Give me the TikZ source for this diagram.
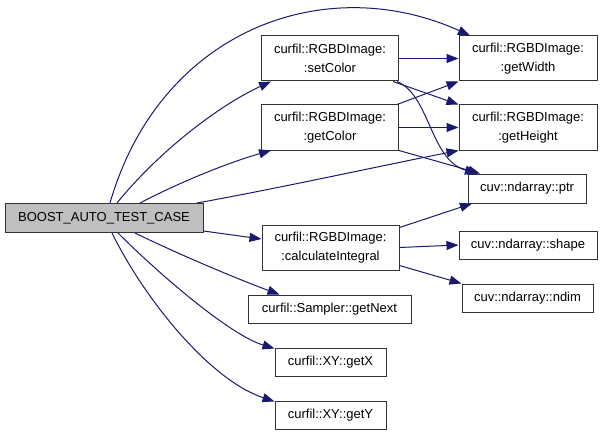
\documentclass[tikz,border=0pt]{standalone}
\usepackage{fontspec}
\setmainfont{Liberation Sans}
\usetikzlibrary{arrows.meta}
\definecolor{edgeblue}{HTML}{191970}

\begin{document}
\begin{tikzpicture}[x=1pt,y=-1pt,
    fn/.style={draw=black!80, line width=1pt, fill=white, align=center, inner sep=0pt,
      minimum width=137pt, minimum height=45pt, font=\fontsize{13}{18.5}\selectfont},
    call/.style={draw=edgeblue, line width=1pt, -{Triangle[length=12pt,width=9pt]}}]
    \useasboundingbox (0,0) rectangle (603,436);
    \node[fn, fill=black!25, minimum width=198pt, minimum height=29pt] (main) at (104,218) {BOOST\_AUTO\_TEST\_CASE};
    \node[fn] (setColor) at (330,58.5) {curfil::RGBDImage:\\:setColor};
    \node[fn] (getColor) at (330,127.5) {curfil::RGBDImage:\\:getColor};
    \node[fn, minimum width=138pt] (getWidth) at (528,58.5) {curfil::RGBDImage:\\:getWidth};
    \node[fn, minimum width=138pt] (getHeight) at (528,127.5) {curfil::RGBDImage:\\:getHeight};
    \node[fn, minimum width=118pt, minimum height=29pt] (ptr) at (527,188.5) {cuv::ndarray::ptr};
    \node[fn] (calcInt) at (330.5,247.5) {curfil::RGBDImage:\\:calculateIntegral};
    \node[fn, minimum width=138pt, minimum height=28pt] (shape) at (528,245) {cuv::ndarray::shape};
    \node[fn, minimum width=131pt, minimum height=28pt] (ndim) at (527.5,298) {cuv::ndarray::ndim};
    \node[fn, minimum width=163pt, minimum height=28pt] (getNext) at (329.5,309) {curfil::Sampler::getNext};
    \node[fn, minimum width=111pt, minimum height=28pt] (getX) at (330.5,362) {curfil::XY::getX};
    \node[fn, minimum width=111pt, minimum height=28pt] (getY) at (330.5,415) {curfil::XY::getY};

    \draw[call] ([xshift=6pt]main.north) .. controls (160,30) and (325,-30) .. ([xshift=-58pt]getWidth.north);
    \draw[call] ([xshift=13pt]main.north) .. controls (160,150) and (220,105) .. ([xshift=-59pt]setColor.south);
    \draw[call] ([xshift=36pt]main.north) .. controls (180,182) and (230,162) .. ([xshift=-59pt]getColor.south);
    \draw[call] ([xshift=93pt]main.north) .. controls (280,188) and (380,166) .. (getHeight.south west);
    \draw[call] ([yshift=-13pt]main.east) -- ([yshift=8.5pt]calcInt.west);
    \draw[call] ([xshift=31pt]main.south) .. controls (180,255) and (240,280) .. ([xshift=-50pt]getNext.north);
    \draw[call] ([xshift=14pt]main.south) .. controls (160,275) and (230,335) .. ([yshift=-1pt]getX.north west);
    \draw[call] ([xshift=8pt]main.south) .. controls (145,300) and (210,380) .. ([yshift=-1pt]getY.north west);

    \draw[call] (setColor.east) -- (getWidth.west);
    \draw[call] ([xshift=-6pt]setColor.south east) -- (getHeight.north west);
    \draw[call] ([xshift=-2pt]setColor.south east) .. controls (430,95) and (430,160) .. ([xshift=-50pt]ptr.north);
    \draw[call] ([xshift=-2pt]getColor.north east) -- (getWidth.south west);
    \draw[call] (getColor.east) -- (getHeight.west);
    \draw[call] (getColor.south east) -- ([xshift=-47pt]ptr.north);
    \draw[call] ([yshift=20pt]calcInt.east) -- ([xshift=-55pt]ptr.south);
    \draw[call] (calcInt.east) -- (shape.west);
    \draw[call] ([yshift=-18pt]calcInt.east) -- (ndim.north west);
\end{tikzpicture}
\end{document}
